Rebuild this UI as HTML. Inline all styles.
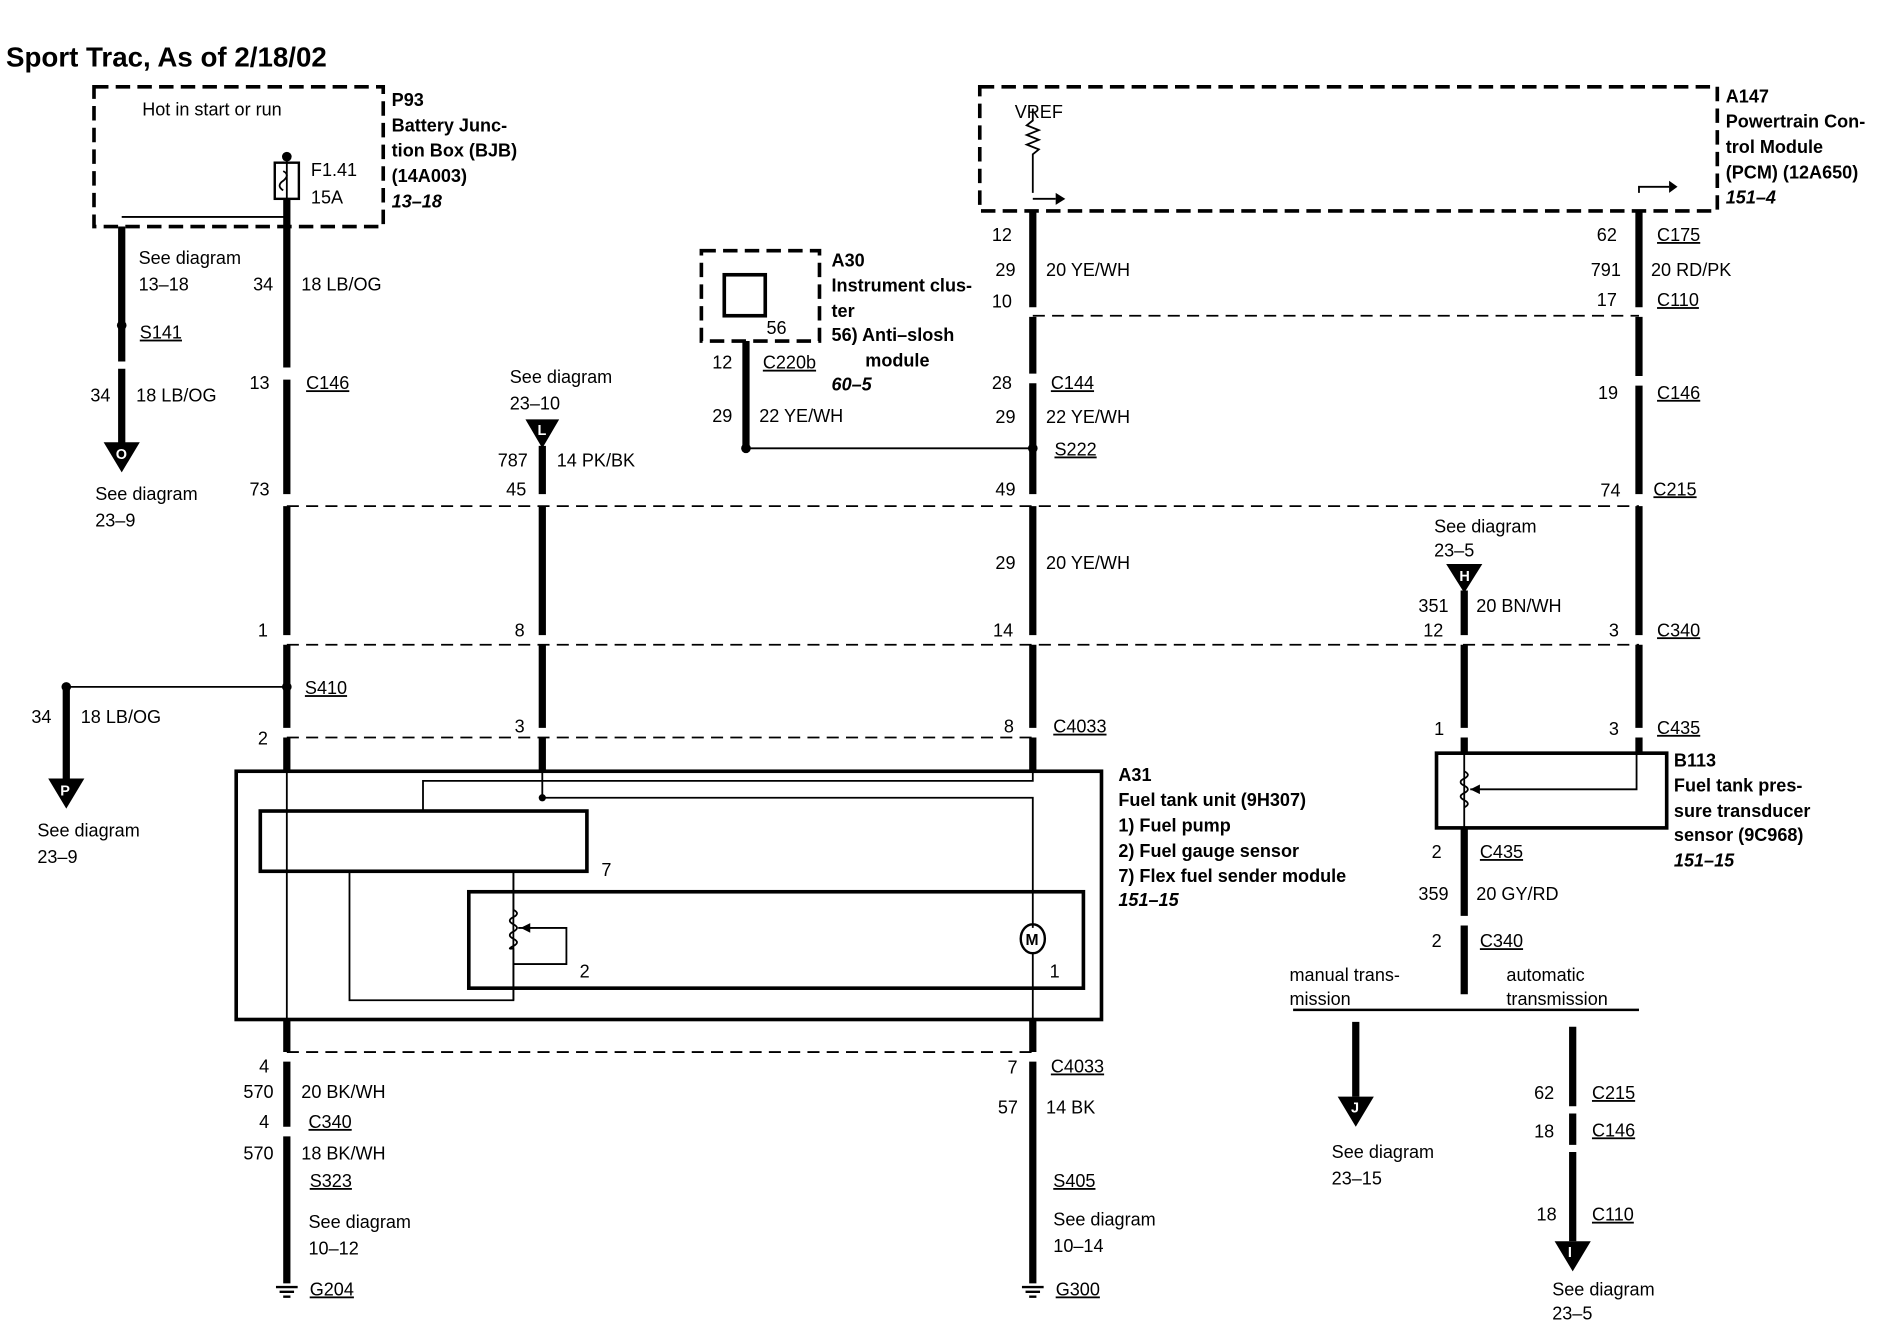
<!DOCTYPE html>
<html><head><style>
html,body{margin:0;padding:0;background:#fff;width:1880px;height:1328px;overflow:hidden}
svg{display:block}
text{font-family:"Liberation Sans",Arial,sans-serif;font-size:15px;fill:#000}
.b{font-weight:bold}
.i{font-weight:bold;font-style:italic}
</style></head><body>
<svg width="1880" height="1328" viewBox="0 0 1560 1102" preserveAspectRatio="none" xmlns="http://www.w3.org/2000/svg">
<g fill="none" stroke="#000">
<rect x="78" y="72" width="240" height="116" stroke-width="3" stroke-dasharray="12,6"/>
<rect x="813" y="72" width="612" height="103" stroke-width="3" stroke-dasharray="12,6"/>
<rect x="582" y="208" width="98" height="75" stroke-width="3" stroke-dasharray="12,6"/>
<rect x="601" y="228" width="34" height="34" stroke-width="3"/>
<rect x="228" y="135" width="20" height="30" stroke-width="2"/>
<path d="M238 128 V165 M101 180 H238 V165" stroke-width="1.5"/>
<path d="M235 142 q6 3 0 8 q-6 4 0 8" stroke-width="1.5"/>
<g stroke-width="6">
<path d="M101 188 V368"/>
<path d="M238 165 V640"/>
<path d="M55 570 V648"/>
<path d="M450 370 V640"/>
<path d="M857 175 V640"/>
<path d="M619 283 V372"/>
<path d="M1360 175 V625"/>
<path d="M1215 490 V625"/>
<path d="M1215 687 V825"/>
<path d="M238 846 V1065"/>
<path d="M857 846 V1065"/>
<path d="M1125 848 V910"/>
<path d="M1305 852 V1030"/>
</g>
<g stroke="#fff" stroke-width="8">
<path d="M238 305 v10 M238 410 v10 M238 527 v8 M238 604 v8 M101 300 v6"/>
<path d="M450 410 v10 M450 527 v8 M450 604 v8"/>
<path d="M857 255 v8 M857 310 v8 M857 410 v10 M857 527 v8 M857 604 v8"/>
<path d="M1360 255 v8 M1360 312 v8 M1360 410 v10 M1360 527 v8 M1360 604 v8"/>
<path d="M1215 527 v8 M1215 604 v8 M1215 760 v8"/>
<path d="M238 873 v8 M238 935 v8 M857 873 v8 M1305 918 v6 M1305 950 v6"/>
</g>
<path d="M55 570 H238 M619 372 H857" stroke-width="1.5"/>
<path d="M857 165 H876 M1360 160 V155 H1385" stroke-width="1.5"/>
<path d="M857 90 V100 l-5 4 l10 4 l-10 4 l10 4 l-10 4 l10 4 l-5 4 V160" stroke-width="1.5"/>
<g stroke-width="1.5" stroke-dasharray="10,6">
<path d="M238 420 H1360"/>
<path d="M238 535 H1360"/>
<path d="M238 612 H858"/>
<path d="M857 262 H1360"/>
<path d="M238 873 H857"/>
</g>
<path d="M1073 838 H1360" stroke-width="2"/>
<rect x="196" y="640" width="718" height="206" stroke-width="3"/>
<rect x="216" y="673" width="271" height="50" stroke-width="3"/>
<rect x="389" y="740" width="510" height="80" stroke-width="3"/>
<g stroke-width="1.5">
<path d="M238 640 V846"/>
<path d="M351 673 V648 H857 V640"/>
<path d="M450 640 V662 H857 V770 M857 790 V846"/>
<path d="M290 723 V830 H426 V723"/>
<path d="M426 723 V755 M426 787 V830"/>
<path d="M426 755 q6 3 0 6 q-6 3 0 6 q6 3 0 6 q-6 3 0 6 q6 3 0 6 q-6 3 0 2"/>
<path d="M430 770 H470 V800 H426"/>
<path d="M1215 625 V687"/>
<path d="M1215 640 q6 3 0 6 q-6 3 0 6 q6 3 0 6 q-6 3 0 6 q6 3 0 6"/>
<path d="M1220 655 H1358 V625"/>
</g>
<ellipse cx="857" cy="779" rx="10" ry="12" stroke-width="2"/>
<rect x="1192" y="625" width="191" height="62" stroke-width="3"/>
</g>
<g fill="#000">
<circle cx="238" cy="130" r="4"/>
<circle cx="101" cy="270" r="4"/><circle cx="55" cy="570" r="4"/><circle cx="238" cy="570" r="4"/>
<circle cx="619" cy="372" r="4"/><circle cx="857" cy="372" r="4"/><circle cx="450" cy="662" r="3"/>
<polygon points="86,367 116,367 101,392"/>
<polygon points="40,646 70,646 55,671"/>
<polygon points="436,348 464,348 450,372"/>
<polygon points="1200,468 1230,468 1215,492"/>
<polygon points="1110,910 1140,910 1125,935"/>
<polygon points="1290,1030 1320,1030 1305,1055"/>
<polygon points="432,770 440,766 440,774"/>
<polygon points="1220,655 1228,651 1228,659"/>
<polygon points="876,160 876,170 884,165"/>
<polygon points="1385,150 1385,160 1392,155"/>
</g>
<g style="fill:#fff;font-size:12px;font-weight:bold">
<text x="96" y="381" style="fill:#fff;font-size:12px">O</text><text x="50" y="660" style="fill:#fff;font-size:12px">P</text><text x="446" y="361" style="fill:#fff;font-size:12px">L</text><text x="1211" y="482" style="fill:#fff;font-size:12px">H</text><text x="1121" y="923" style="fill:#fff;font-size:12px">J</text><text x="1301" y="1043" style="fill:#fff;font-size:12px">I</text>
</g>
<text x="851" y="784" class="b" style="font-size:13px">M</text>
<path d="M229 1068 h18 M232 1072 h12 M235 1076 h6 M848 1068 h18 M851 1072 h12 M854 1076 h6" stroke="#000" stroke-width="2"/>

<text x="5" y="55" class="b" style="font-size:23px">Sport Trac, As of 2/18/02</text>
<text x="118" y="96">Hot in start or run</text>
<text x="258" y="146">F1.41</text><text x="258" y="169">15A</text>
<text x="325" y="88" class="b">P93</text>
<text x="325" y="109" class="b">Battery Junc-</text>
<text x="325" y="130" class="b">tion Box (BJB)</text>
<text x="325" y="151" class="b">(14A003)</text>
<text x="325" y="172" class="i">13–18</text>
<text x="115" y="219">See diagram</text><text x="115" y="241">13–18</text>
<text x="116" y="281" text-decoration="underline">S141</text>
<text x="75" y="333">34</text><text x="113" y="333">18 LB/OG</text>
<text x="79" y="415">See diagram</text><text x="79" y="437">23–9</text>
<text x="210" y="241">34</text><text x="250" y="241">18 LB/OG</text>
<text x="207" y="323">13</text><text x="254" y="323" text-decoration="underline">C146</text>
<text x="207" y="411">73</text>
<text x="214" y="528">1</text>
<text x="253" y="576" text-decoration="underline">S410</text>
<text x="26" y="600">34</text><text x="67" y="600">18 LB/OG</text>
<text x="214" y="618">2</text>
<text x="31" y="694">See diagram</text><text x="31" y="716">23–9</text>
<text x="423" y="318">See diagram</text><text x="423" y="340">23–10</text>
<text x="413" y="387">787</text><text x="462" y="387">14 PK/BK</text>
<text x="420" y="411">45</text>
<text x="427" y="528">8</text><text x="427" y="608">3</text>
<text x="690" y="221" class="b">A30</text>
<text x="690" y="242" class="b">Instrument clus-</text>
<text x="690" y="263" class="b">ter</text>
<text x="690" y="283" class="b">56) Anti–slosh</text>
<text x="718" y="304" class="b">module</text>
<text x="690" y="324" class="i">60–5</text>
<text x="636" y="277">56</text>
<text x="591" y="306">12</text><text x="633" y="306" text-decoration="underline">C220b</text>
<text x="591" y="350">29</text><text x="630" y="350">22 YE/WH</text>
<text x="842" y="98">VREF</text>
<text x="823" y="200">12</text>
<text x="826" y="229">29</text><text x="868" y="229">20 YE/WH</text>
<text x="823" y="255">10</text>
<text x="823" y="323">28</text><text x="872" y="323" text-decoration="underline">C144</text>
<text x="826" y="351">29</text><text x="868" y="351">22 YE/WH</text>
<text x="875" y="378" text-decoration="underline">S222</text>
<text x="826" y="411">49</text>
<text x="826" y="472">29</text><text x="868" y="472">20 YE/WH</text>
<text x="824" y="528">14</text>
<text x="833" y="608">8</text><text x="874" y="608" text-decoration="underline">C4033</text>
<text x="1432" y="85" class="b">A147</text>
<text x="1432" y="106" class="b">Powertrain Con-</text>
<text x="1432" y="127" class="b">trol Module</text>
<text x="1432" y="148" class="b">(PCM) (12A650)</text>
<text x="1432" y="169" class="i">151–4</text>
<text x="1325" y="200">62</text><text x="1375" y="200" text-decoration="underline">C175</text>
<text x="1320" y="229">791</text><text x="1370" y="229">20 RD/PK</text>
<text x="1325" y="254">17</text><text x="1375" y="254" text-decoration="underline">C110</text>
<text x="1326" y="331">19</text><text x="1375" y="331" text-decoration="underline">C146</text>
<text x="1328" y="412">74</text><text x="1372" y="411" text-decoration="underline">C215</text>
<text x="1190" y="442">See diagram</text><text x="1190" y="462">23–5</text>
<text x="1177" y="508">351</text><text x="1225" y="508">20 BN/WH</text>
<text x="1181" y="528">12</text>
<text x="1335" y="528">3</text><text x="1375" y="528" text-decoration="underline">C340</text>
<text x="1190" y="610">1</text><text x="1335" y="610">3</text><text x="1375" y="609" text-decoration="underline">C435</text>
<text x="1389" y="636" class="b">B113</text>
<text x="1389" y="657" class="b">Fuel tank pres-</text>
<text x="1389" y="678" class="b">sure transducer</text>
<text x="1389" y="698" class="b">sensor (9C968)</text>
<text x="1389" y="719" class="i">151–15</text>
<text x="1188" y="712">2</text><text x="1228" y="712" text-decoration="underline">C435</text>
<text x="1177" y="747">359</text><text x="1225" y="747">20 GY/RD</text>
<text x="1188" y="786">2</text><text x="1228" y="786" text-decoration="underline">C340</text>
<text x="1070" y="814">manual trans-</text><text x="1070" y="834">mission</text>
<text x="1250" y="814">automatic</text><text x="1250" y="834">transmission</text>
<text x="928" y="648" class="b">A31</text>
<text x="928" y="669" class="b">Fuel tank unit (9H307)</text>
<text x="928" y="690" class="b">1)   Fuel pump</text>
<text x="928" y="711" class="b">2)   Fuel gauge sensor</text>
<text x="928" y="732" class="b">7)   Flex fuel sender module</text>
<text x="928" y="752" class="i">151–15</text>
<text x="499" y="727">7</text><text x="481" y="811">2</text><text x="871" y="811">1</text>
<text x="215" y="890">4</text>
<text x="202" y="911">570</text><text x="250" y="911">20 BK/WH</text>
<text x="215" y="936">4</text><text x="256" y="936" text-decoration="underline">C340</text>
<text x="202" y="962">570</text><text x="250" y="962">18 BK/WH</text>
<text x="257" y="985" text-decoration="underline">S323</text>
<text x="256" y="1019">See diagram</text><text x="256" y="1041">10–12</text>
<text x="257" y="1075" text-decoration="underline">G204</text>
<text x="836" y="891">7</text><text x="872" y="890" text-decoration="underline">C4033</text>
<text x="828" y="924">57</text><text x="868" y="924">14 BK</text>
<text x="874" y="985" text-decoration="underline">S405</text>
<text x="874" y="1017">See diagram</text><text x="874" y="1039">10–14</text>
<text x="876" y="1075" text-decoration="underline">G300</text>
<text x="1105" y="961">See diagram</text><text x="1105" y="983">23–15</text>
<text x="1273" y="912">62</text><text x="1321" y="912" text-decoration="underline">C215</text>
<text x="1273" y="944">18</text><text x="1321" y="943" text-decoration="underline">C146</text>
<text x="1275" y="1013">18</text><text x="1321" y="1013" text-decoration="underline">C110</text>
<text x="1288" y="1075">See diagram</text><text x="1288" y="1095">23–5</text>
</svg>
</body></html>
